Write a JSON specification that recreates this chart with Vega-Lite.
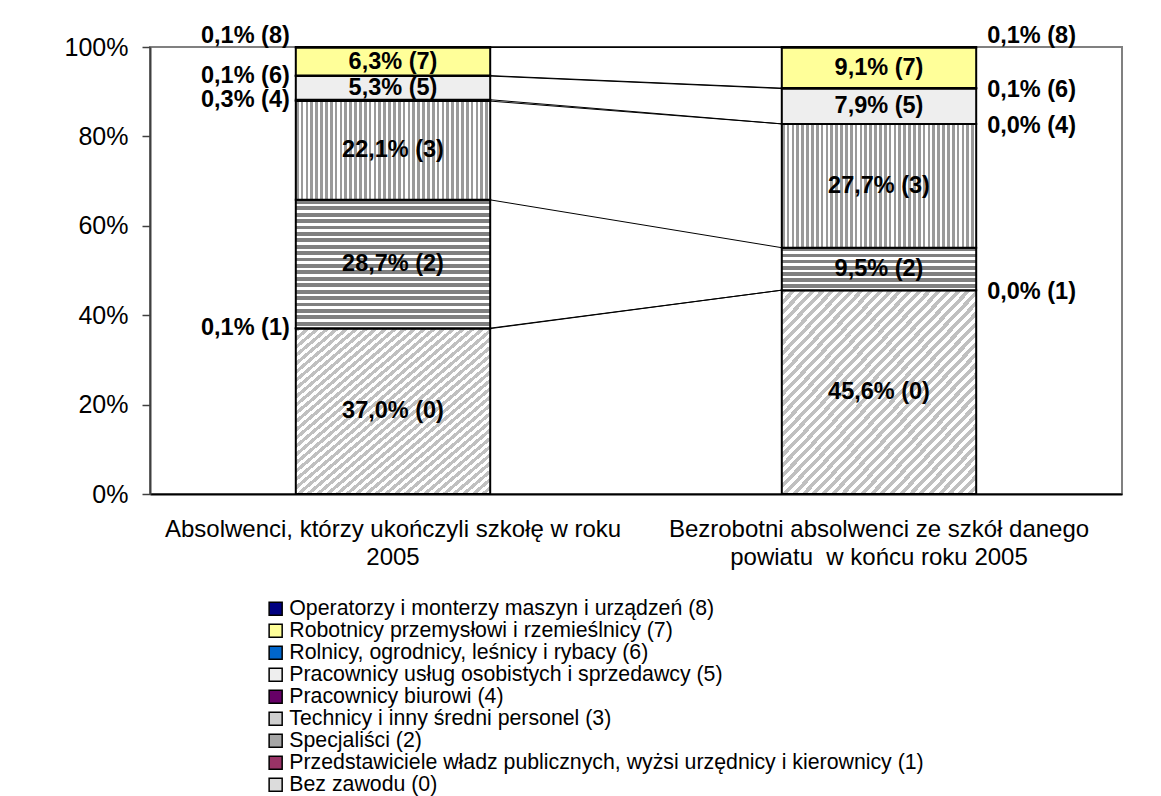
{
  "$schema": "https://vega.github.io/schema/vega-lite/v6.json",
  "width": 972,
  "height": 447,
  "autosize": {"type": "none"},
  "padding": {"left": 150, "top": 47, "right": 39, "bottom": 302},
  "background": "white",
  "config": {
    "view": {"stroke": "#808080", "strokeWidth": 2},
    "font": "Liberation Sans"
  },
  "data": {
    "values": [
      {"grad": "A", "code": 0, "cat": "Bez zawodu (0)", "value": 37.0},
      {"grad": "A", "code": 1, "cat": "Przedstawiciele władz publicznych, wyżsi urzędnicy i kierownicy (1)", "value": 0.1},
      {"grad": "A", "code": 2, "cat": "Specjaliści (2)", "value": 28.7},
      {"grad": "A", "code": 3, "cat": "Technicy i inny średni personel (3)", "value": 22.1},
      {"grad": "A", "code": 4, "cat": "Pracownicy biurowi (4)", "value": 0.3},
      {"grad": "A", "code": 5, "cat": "Pracownicy usług osobistych i sprzedawcy (5)", "value": 5.3},
      {"grad": "A", "code": 6, "cat": "Rolnicy, ogrodnicy, leśnicy i rybacy (6)", "value": 0.1},
      {"grad": "A", "code": 7, "cat": "Robotnicy przemysłowi i rzemieślnicy (7)", "value": 6.3},
      {"grad": "A", "code": 8, "cat": "Operatorzy i monterzy maszyn i urządzeń (8)", "value": 0.1},
      {"grad": "B", "code": 0, "cat": "Bez zawodu (0)", "value": 45.6},
      {"grad": "B", "code": 1, "cat": "Przedstawiciele władz publicznych, wyżsi urzędnicy i kierownicy (1)", "value": 0.0},
      {"grad": "B", "code": 2, "cat": "Specjaliści (2)", "value": 9.5},
      {"grad": "B", "code": 3, "cat": "Technicy i inny średni personel (3)", "value": 27.7},
      {"grad": "B", "code": 4, "cat": "Pracownicy biurowi (4)", "value": 0.0},
      {"grad": "B", "code": 5, "cat": "Pracownicy usług osobistych i sprzedawcy (5)", "value": 7.9},
      {"grad": "B", "code": 6, "cat": "Rolnicy, ogrodnicy, leśnicy i rybacy (6)", "value": 0.1},
      {"grad": "B", "code": 7, "cat": "Robotnicy przemysłowi i rzemieślnicy (7)", "value": 9.1},
      {"grad": "B", "code": 8, "cat": "Operatorzy i monterzy maszyn i urządzeń (8)", "value": 0.1}
    ]
  },
  "transform": [
    {"stack": "value", "groupby": ["grad"], "sort": [{"field": "code", "order": "ascending"}], "as": ["v0", "v1"]},
    {"calculate": "(datum.v0 + datum.v1) / 2", "as": "mid"},
    {"calculate": "replace(format(datum.value, '.1f'), '.', ',') + '% (' + datum.code + ')'", "as": "lbl"}
  ],
  "layer": [
    {
      "mark": {"type": "bar", "stroke": "black", "strokeWidth": 2},
      "encoding": {
        "x": {
          "field": "grad", "type": "nominal", "title": null,
          "scale": {"paddingInner": 0.6, "paddingOuter": 0.3},
          "axis": {
            "labelExpr": "datum.value == 'A' ? ['Absolwenci, którzy ukończyli szkołę w roku', '2005'] : ['Bezrobotni absolwenci ze szkół danego', 'powiatu\u00a0 w końcu roku 2005']",
            "ticks": false, "domainColor": "black", "domainWidth": 2,
            "labelFontSize": 24, "labelLineHeight": 28, "labelPadding": 23,
            "labelLimit": 0, "labelColor": "black", "labelAngle": 0, "labelFont": "Liberation Sans", "title": null
          }
        },
        "y": {
          "field": "v0", "type": "quantitative", "title": null,
          "scale": {"domain": [0, 100], "nice": false},
          "axis": {
            "values": [0, 20, 40, 60, 80, 100], "labelExpr": "datum.value + '%'", "grid": false,
            "tickSize": 8, "tickColor": "#404040", "tickWidth": 1.5,
            "domainColor": "#404040", "domainWidth": 2,
            "labelFontSize": 25, "labelPadding": 14, "labelColor": "black", "labelFont": "Liberation Sans", "title": null
          }
        },
        "y2": {"field": "v1"},
        "fill": {
          "field": "cat", "type": "nominal",
          "scale": {
            "domain": [
              "Operatorzy i monterzy maszyn i urządzeń (8)",
              "Robotnicy przemysłowi i rzemieślnicy (7)",
              "Rolnicy, ogrodnicy, leśnicy i rybacy (6)",
              "Pracownicy usług osobistych i sprzedawcy (5)",
              "Pracownicy biurowi (4)",
              "Technicy i inny średni personel (3)",
              "Specjaliści (2)",
              "Przedstawiciele władz publicznych, wyżsi urzędnicy i kierownicy (1)",
              "Bez zawodu (0)"
            ],
            "range": ["#000080", "#ffff99", "#0066cc", "#eeeeee", "#660066", "#cfcfcf", "#a6a6a6", "#993366", "#dcdcdc"]
          },
          "legend": {
            "orient": "none", "legendX": 115, "legendY": 551, "title": null,
            "symbolType": "square", "symbolSize": 170, "symbolStrokeColor": "black", "symbolStrokeWidth": 1.5,
            "labelFontSize": 21.3, "labelFont": "Liberation Sans", "labelColor": "black", "labelLimit": 800,
            "rowPadding": 0, "labelOffset": 3, "padding": 0, "direction": "vertical"
          },
          "condition": [
            {"test": "datum.code == 3", "value": {"gradient": "linear", "x1": 0, "y1": 0, "x2": 1, "y2": 0, "stops": [
              {"offset":0,"color":"#9a9a9a"},{"offset":0.014,"color":"#9a9a9a"},{"offset":0.014,"color":"#fff"},{"offset":0.025,"color":"#fff"},
              {"offset":0.025,"color":"#9a9a9a"},{"offset":0.039,"color":"#9a9a9a"},{"offset":0.039,"color":"#fff"},{"offset":0.05,"color":"#fff"},
              {"offset":0.05,"color":"#9a9a9a"},{"offset":0.064,"color":"#9a9a9a"},{"offset":0.064,"color":"#fff"},{"offset":0.075,"color":"#fff"},
              {"offset":0.075,"color":"#9a9a9a"},{"offset":0.089,"color":"#9a9a9a"},{"offset":0.089,"color":"#fff"},{"offset":0.1,"color":"#fff"},
              {"offset":0.1,"color":"#9a9a9a"},{"offset":0.114,"color":"#9a9a9a"},{"offset":0.114,"color":"#fff"},{"offset":0.125,"color":"#fff"},
              {"offset":0.125,"color":"#9a9a9a"},{"offset":0.139,"color":"#9a9a9a"},{"offset":0.139,"color":"#fff"},{"offset":0.15,"color":"#fff"},
              {"offset":0.15,"color":"#9a9a9a"},{"offset":0.164,"color":"#9a9a9a"},{"offset":0.164,"color":"#fff"},{"offset":0.175,"color":"#fff"},
              {"offset":0.175,"color":"#9a9a9a"},{"offset":0.189,"color":"#9a9a9a"},{"offset":0.189,"color":"#fff"},{"offset":0.2,"color":"#fff"},
              {"offset":0.2,"color":"#9a9a9a"},{"offset":0.214,"color":"#9a9a9a"},{"offset":0.214,"color":"#fff"},{"offset":0.225,"color":"#fff"},
              {"offset":0.225,"color":"#9a9a9a"},{"offset":0.239,"color":"#9a9a9a"},{"offset":0.239,"color":"#fff"},{"offset":0.25,"color":"#fff"},
              {"offset":0.25,"color":"#9a9a9a"},{"offset":0.264,"color":"#9a9a9a"},{"offset":0.264,"color":"#fff"},{"offset":0.275,"color":"#fff"},
              {"offset":0.275,"color":"#9a9a9a"},{"offset":0.289,"color":"#9a9a9a"},{"offset":0.289,"color":"#fff"},{"offset":0.3,"color":"#fff"},
              {"offset":0.3,"color":"#9a9a9a"},{"offset":0.314,"color":"#9a9a9a"},{"offset":0.314,"color":"#fff"},{"offset":0.325,"color":"#fff"},
              {"offset":0.325,"color":"#9a9a9a"},{"offset":0.339,"color":"#9a9a9a"},{"offset":0.339,"color":"#fff"},{"offset":0.35,"color":"#fff"},
              {"offset":0.35,"color":"#9a9a9a"},{"offset":0.364,"color":"#9a9a9a"},{"offset":0.364,"color":"#fff"},{"offset":0.375,"color":"#fff"},
              {"offset":0.375,"color":"#9a9a9a"},{"offset":0.389,"color":"#9a9a9a"},{"offset":0.389,"color":"#fff"},{"offset":0.4,"color":"#fff"},
              {"offset":0.4,"color":"#9a9a9a"},{"offset":0.414,"color":"#9a9a9a"},{"offset":0.414,"color":"#fff"},{"offset":0.425,"color":"#fff"},
              {"offset":0.425,"color":"#9a9a9a"},{"offset":0.439,"color":"#9a9a9a"},{"offset":0.439,"color":"#fff"},{"offset":0.45,"color":"#fff"},
              {"offset":0.45,"color":"#9a9a9a"},{"offset":0.464,"color":"#9a9a9a"},{"offset":0.464,"color":"#fff"},{"offset":0.475,"color":"#fff"},
              {"offset":0.475,"color":"#9a9a9a"},{"offset":0.489,"color":"#9a9a9a"},{"offset":0.489,"color":"#fff"},{"offset":0.5,"color":"#fff"},
              {"offset":0.5,"color":"#9a9a9a"},{"offset":0.514,"color":"#9a9a9a"},{"offset":0.514,"color":"#fff"},{"offset":0.525,"color":"#fff"},
              {"offset":0.525,"color":"#9a9a9a"},{"offset":0.539,"color":"#9a9a9a"},{"offset":0.539,"color":"#fff"},{"offset":0.55,"color":"#fff"},
              {"offset":0.55,"color":"#9a9a9a"},{"offset":0.564,"color":"#9a9a9a"},{"offset":0.564,"color":"#fff"},{"offset":0.575,"color":"#fff"},
              {"offset":0.575,"color":"#9a9a9a"},{"offset":0.589,"color":"#9a9a9a"},{"offset":0.589,"color":"#fff"},{"offset":0.6,"color":"#fff"},
              {"offset":0.6,"color":"#9a9a9a"},{"offset":0.614,"color":"#9a9a9a"},{"offset":0.614,"color":"#fff"},{"offset":0.625,"color":"#fff"},
              {"offset":0.625,"color":"#9a9a9a"},{"offset":0.639,"color":"#9a9a9a"},{"offset":0.639,"color":"#fff"},{"offset":0.65,"color":"#fff"},
              {"offset":0.65,"color":"#9a9a9a"},{"offset":0.664,"color":"#9a9a9a"},{"offset":0.664,"color":"#fff"},{"offset":0.675,"color":"#fff"},
              {"offset":0.675,"color":"#9a9a9a"},{"offset":0.689,"color":"#9a9a9a"},{"offset":0.689,"color":"#fff"},{"offset":0.7,"color":"#fff"},
              {"offset":0.7,"color":"#9a9a9a"},{"offset":0.714,"color":"#9a9a9a"},{"offset":0.714,"color":"#fff"},{"offset":0.725,"color":"#fff"},
              {"offset":0.725,"color":"#9a9a9a"},{"offset":0.739,"color":"#9a9a9a"},{"offset":0.739,"color":"#fff"},{"offset":0.75,"color":"#fff"},
              {"offset":0.75,"color":"#9a9a9a"},{"offset":0.764,"color":"#9a9a9a"},{"offset":0.764,"color":"#fff"},{"offset":0.775,"color":"#fff"},
              {"offset":0.775,"color":"#9a9a9a"},{"offset":0.789,"color":"#9a9a9a"},{"offset":0.789,"color":"#fff"},{"offset":0.8,"color":"#fff"},
              {"offset":0.8,"color":"#9a9a9a"},{"offset":0.814,"color":"#9a9a9a"},{"offset":0.814,"color":"#fff"},{"offset":0.825,"color":"#fff"},
              {"offset":0.825,"color":"#9a9a9a"},{"offset":0.839,"color":"#9a9a9a"},{"offset":0.839,"color":"#fff"},{"offset":0.85,"color":"#fff"},
              {"offset":0.85,"color":"#9a9a9a"},{"offset":0.864,"color":"#9a9a9a"},{"offset":0.864,"color":"#fff"},{"offset":0.875,"color":"#fff"},
              {"offset":0.875,"color":"#9a9a9a"},{"offset":0.889,"color":"#9a9a9a"},{"offset":0.889,"color":"#fff"},{"offset":0.9,"color":"#fff"},
              {"offset":0.9,"color":"#9a9a9a"},{"offset":0.914,"color":"#9a9a9a"},{"offset":0.914,"color":"#fff"},{"offset":0.925,"color":"#fff"},
              {"offset":0.925,"color":"#9a9a9a"},{"offset":0.939,"color":"#9a9a9a"},{"offset":0.939,"color":"#fff"},{"offset":0.95,"color":"#fff"},
              {"offset":0.95,"color":"#9a9a9a"},{"offset":0.964,"color":"#9a9a9a"},{"offset":0.964,"color":"#fff"},{"offset":0.975,"color":"#fff"},
              {"offset":0.975,"color":"#9a9a9a"},{"offset":0.989,"color":"#9a9a9a"},{"offset":0.989,"color":"#fff"},{"offset":1,"color":"#fff"}
            ]}},
            {"test": "datum.code == 0", "value": {"gradient": "linear", "x1": 0, "y1": 0, "x2": 1, "y2": 1, "stops": [
              {"offset":0,"color":"#c0c0c0"},{"offset":0.013,"color":"#c0c0c0"},{"offset":0.013,"color":"#fff"},{"offset":0.025,"color":"#fff"},
              {"offset":0.025,"color":"#c0c0c0"},{"offset":0.038,"color":"#c0c0c0"},{"offset":0.038,"color":"#fff"},{"offset":0.05,"color":"#fff"},
              {"offset":0.05,"color":"#c0c0c0"},{"offset":0.063,"color":"#c0c0c0"},{"offset":0.063,"color":"#fff"},{"offset":0.075,"color":"#fff"},
              {"offset":0.075,"color":"#c0c0c0"},{"offset":0.088,"color":"#c0c0c0"},{"offset":0.088,"color":"#fff"},{"offset":0.1,"color":"#fff"},
              {"offset":0.1,"color":"#c0c0c0"},{"offset":0.113,"color":"#c0c0c0"},{"offset":0.113,"color":"#fff"},{"offset":0.125,"color":"#fff"},
              {"offset":0.125,"color":"#c0c0c0"},{"offset":0.138,"color":"#c0c0c0"},{"offset":0.138,"color":"#fff"},{"offset":0.15,"color":"#fff"},
              {"offset":0.15,"color":"#c0c0c0"},{"offset":0.163,"color":"#c0c0c0"},{"offset":0.163,"color":"#fff"},{"offset":0.175,"color":"#fff"},
              {"offset":0.175,"color":"#c0c0c0"},{"offset":0.188,"color":"#c0c0c0"},{"offset":0.188,"color":"#fff"},{"offset":0.2,"color":"#fff"},
              {"offset":0.2,"color":"#c0c0c0"},{"offset":0.213,"color":"#c0c0c0"},{"offset":0.213,"color":"#fff"},{"offset":0.225,"color":"#fff"},
              {"offset":0.225,"color":"#c0c0c0"},{"offset":0.238,"color":"#c0c0c0"},{"offset":0.238,"color":"#fff"},{"offset":0.25,"color":"#fff"},
              {"offset":0.25,"color":"#c0c0c0"},{"offset":0.263,"color":"#c0c0c0"},{"offset":0.263,"color":"#fff"},{"offset":0.275,"color":"#fff"},
              {"offset":0.275,"color":"#c0c0c0"},{"offset":0.288,"color":"#c0c0c0"},{"offset":0.288,"color":"#fff"},{"offset":0.3,"color":"#fff"},
              {"offset":0.3,"color":"#c0c0c0"},{"offset":0.313,"color":"#c0c0c0"},{"offset":0.313,"color":"#fff"},{"offset":0.325,"color":"#fff"},
              {"offset":0.325,"color":"#c0c0c0"},{"offset":0.338,"color":"#c0c0c0"},{"offset":0.338,"color":"#fff"},{"offset":0.35,"color":"#fff"},
              {"offset":0.35,"color":"#c0c0c0"},{"offset":0.363,"color":"#c0c0c0"},{"offset":0.363,"color":"#fff"},{"offset":0.375,"color":"#fff"},
              {"offset":0.375,"color":"#c0c0c0"},{"offset":0.388,"color":"#c0c0c0"},{"offset":0.388,"color":"#fff"},{"offset":0.4,"color":"#fff"},
              {"offset":0.4,"color":"#c0c0c0"},{"offset":0.413,"color":"#c0c0c0"},{"offset":0.413,"color":"#fff"},{"offset":0.425,"color":"#fff"},
              {"offset":0.425,"color":"#c0c0c0"},{"offset":0.438,"color":"#c0c0c0"},{"offset":0.438,"color":"#fff"},{"offset":0.45,"color":"#fff"},
              {"offset":0.45,"color":"#c0c0c0"},{"offset":0.463,"color":"#c0c0c0"},{"offset":0.463,"color":"#fff"},{"offset":0.475,"color":"#fff"},
              {"offset":0.475,"color":"#c0c0c0"},{"offset":0.488,"color":"#c0c0c0"},{"offset":0.488,"color":"#fff"},{"offset":0.5,"color":"#fff"},
              {"offset":0.5,"color":"#c0c0c0"},{"offset":0.513,"color":"#c0c0c0"},{"offset":0.513,"color":"#fff"},{"offset":0.525,"color":"#fff"},
              {"offset":0.525,"color":"#c0c0c0"},{"offset":0.538,"color":"#c0c0c0"},{"offset":0.538,"color":"#fff"},{"offset":0.55,"color":"#fff"},
              {"offset":0.55,"color":"#c0c0c0"},{"offset":0.563,"color":"#c0c0c0"},{"offset":0.563,"color":"#fff"},{"offset":0.575,"color":"#fff"},
              {"offset":0.575,"color":"#c0c0c0"},{"offset":0.588,"color":"#c0c0c0"},{"offset":0.588,"color":"#fff"},{"offset":0.6,"color":"#fff"},
              {"offset":0.6,"color":"#c0c0c0"},{"offset":0.613,"color":"#c0c0c0"},{"offset":0.613,"color":"#fff"},{"offset":0.625,"color":"#fff"},
              {"offset":0.625,"color":"#c0c0c0"},{"offset":0.638,"color":"#c0c0c0"},{"offset":0.638,"color":"#fff"},{"offset":0.65,"color":"#fff"},
              {"offset":0.65,"color":"#c0c0c0"},{"offset":0.663,"color":"#c0c0c0"},{"offset":0.663,"color":"#fff"},{"offset":0.675,"color":"#fff"},
              {"offset":0.675,"color":"#c0c0c0"},{"offset":0.688,"color":"#c0c0c0"},{"offset":0.688,"color":"#fff"},{"offset":0.7,"color":"#fff"},
              {"offset":0.7,"color":"#c0c0c0"},{"offset":0.713,"color":"#c0c0c0"},{"offset":0.713,"color":"#fff"},{"offset":0.725,"color":"#fff"},
              {"offset":0.725,"color":"#c0c0c0"},{"offset":0.738,"color":"#c0c0c0"},{"offset":0.738,"color":"#fff"},{"offset":0.75,"color":"#fff"},
              {"offset":0.75,"color":"#c0c0c0"},{"offset":0.763,"color":"#c0c0c0"},{"offset":0.763,"color":"#fff"},{"offset":0.775,"color":"#fff"},
              {"offset":0.775,"color":"#c0c0c0"},{"offset":0.788,"color":"#c0c0c0"},{"offset":0.788,"color":"#fff"},{"offset":0.8,"color":"#fff"},
              {"offset":0.8,"color":"#c0c0c0"},{"offset":0.813,"color":"#c0c0c0"},{"offset":0.813,"color":"#fff"},{"offset":0.825,"color":"#fff"},
              {"offset":0.825,"color":"#c0c0c0"},{"offset":0.838,"color":"#c0c0c0"},{"offset":0.838,"color":"#fff"},{"offset":0.85,"color":"#fff"},
              {"offset":0.85,"color":"#c0c0c0"},{"offset":0.863,"color":"#c0c0c0"},{"offset":0.863,"color":"#fff"},{"offset":0.875,"color":"#fff"},
              {"offset":0.875,"color":"#c0c0c0"},{"offset":0.888,"color":"#c0c0c0"},{"offset":0.888,"color":"#fff"},{"offset":0.9,"color":"#fff"},
              {"offset":0.9,"color":"#c0c0c0"},{"offset":0.913,"color":"#c0c0c0"},{"offset":0.913,"color":"#fff"},{"offset":0.925,"color":"#fff"},
              {"offset":0.925,"color":"#c0c0c0"},{"offset":0.938,"color":"#c0c0c0"},{"offset":0.938,"color":"#fff"},{"offset":0.95,"color":"#fff"},
              {"offset":0.95,"color":"#c0c0c0"},{"offset":0.963,"color":"#c0c0c0"},{"offset":0.963,"color":"#fff"},{"offset":0.975,"color":"#fff"},
              {"offset":0.975,"color":"#c0c0c0"},{"offset":0.988,"color":"#c0c0c0"},{"offset":0.988,"color":"#fff"},{"offset":1,"color":"#fff"}
            ]}},
            {"test": "datum.code == 2 && datum.grad == 'A'", "value": {"gradient": "linear", "x1": 0, "y1": 0, "x2": 0, "y2": 1, "stops": [
              {"offset":0,"color":"#808080"},{"offset":0.03,"color":"#808080"},{"offset":0.03,"color":"#fff"},{"offset":0.05,"color":"#fff"},
              {"offset":0.05,"color":"#808080"},{"offset":0.08,"color":"#808080"},{"offset":0.08,"color":"#fff"},{"offset":0.1,"color":"#fff"},
              {"offset":0.1,"color":"#808080"},{"offset":0.13,"color":"#808080"},{"offset":0.13,"color":"#fff"},{"offset":0.15,"color":"#fff"},
              {"offset":0.15,"color":"#808080"},{"offset":0.18,"color":"#808080"},{"offset":0.18,"color":"#fff"},{"offset":0.2,"color":"#fff"},
              {"offset":0.2,"color":"#808080"},{"offset":0.23,"color":"#808080"},{"offset":0.23,"color":"#fff"},{"offset":0.25,"color":"#fff"},
              {"offset":0.25,"color":"#808080"},{"offset":0.28,"color":"#808080"},{"offset":0.28,"color":"#fff"},{"offset":0.3,"color":"#fff"},
              {"offset":0.3,"color":"#808080"},{"offset":0.33,"color":"#808080"},{"offset":0.33,"color":"#fff"},{"offset":0.35,"color":"#fff"},
              {"offset":0.35,"color":"#808080"},{"offset":0.38,"color":"#808080"},{"offset":0.38,"color":"#fff"},{"offset":0.4,"color":"#fff"},
              {"offset":0.4,"color":"#808080"},{"offset":0.43,"color":"#808080"},{"offset":0.43,"color":"#fff"},{"offset":0.45,"color":"#fff"},
              {"offset":0.45,"color":"#808080"},{"offset":0.48,"color":"#808080"},{"offset":0.48,"color":"#fff"},{"offset":0.5,"color":"#fff"},
              {"offset":0.5,"color":"#808080"},{"offset":0.53,"color":"#808080"},{"offset":0.53,"color":"#fff"},{"offset":0.55,"color":"#fff"},
              {"offset":0.55,"color":"#808080"},{"offset":0.58,"color":"#808080"},{"offset":0.58,"color":"#fff"},{"offset":0.6,"color":"#fff"},
              {"offset":0.6,"color":"#808080"},{"offset":0.63,"color":"#808080"},{"offset":0.63,"color":"#fff"},{"offset":0.65,"color":"#fff"},
              {"offset":0.65,"color":"#808080"},{"offset":0.68,"color":"#808080"},{"offset":0.68,"color":"#fff"},{"offset":0.7,"color":"#fff"},
              {"offset":0.7,"color":"#808080"},{"offset":0.73,"color":"#808080"},{"offset":0.73,"color":"#fff"},{"offset":0.75,"color":"#fff"},
              {"offset":0.75,"color":"#808080"},{"offset":0.78,"color":"#808080"},{"offset":0.78,"color":"#fff"},{"offset":0.8,"color":"#fff"},
              {"offset":0.8,"color":"#808080"},{"offset":0.83,"color":"#808080"},{"offset":0.83,"color":"#fff"},{"offset":0.85,"color":"#fff"},
              {"offset":0.85,"color":"#808080"},{"offset":0.88,"color":"#808080"},{"offset":0.88,"color":"#fff"},{"offset":0.9,"color":"#fff"},
              {"offset":0.9,"color":"#808080"},{"offset":0.93,"color":"#808080"},{"offset":0.93,"color":"#fff"},{"offset":0.95,"color":"#fff"},
              {"offset":0.95,"color":"#808080"},{"offset":0.98,"color":"#808080"},{"offset":0.98,"color":"#fff"},{"offset":1,"color":"#fff"}
            ]}},
            {"test": "datum.code == 2 && datum.grad == 'B'", "value": {"gradient": "linear", "x1": 0, "y1": 0, "x2": 0, "y2": 1, "stops": [
              {"offset":0,"color":"#808080"},{"offset":0.0857,"color":"#808080"},{"offset":0.0857,"color":"#fff"},{"offset":0.1429,"color":"#fff"},
              {"offset":0.1429,"color":"#808080"},{"offset":0.2286,"color":"#808080"},{"offset":0.2286,"color":"#fff"},{"offset":0.2857,"color":"#fff"},
              {"offset":0.2857,"color":"#808080"},{"offset":0.3714,"color":"#808080"},{"offset":0.3714,"color":"#fff"},{"offset":0.4286,"color":"#fff"},
              {"offset":0.4286,"color":"#808080"},{"offset":0.5143,"color":"#808080"},{"offset":0.5143,"color":"#fff"},{"offset":0.5714,"color":"#fff"},
              {"offset":0.5714,"color":"#808080"},{"offset":0.6571,"color":"#808080"},{"offset":0.6571,"color":"#fff"},{"offset":0.7143,"color":"#fff"},
              {"offset":0.7143,"color":"#808080"},{"offset":0.8,"color":"#808080"},{"offset":0.8,"color":"#fff"},{"offset":0.8571,"color":"#fff"},
              {"offset":0.8571,"color":"#808080"},{"offset":0.9429,"color":"#808080"},{"offset":0.9429,"color":"#fff"},{"offset":1,"color":"#fff"}
            ]}}
          ]
        }
      }
    },
    {
      "transform": [{"pivot": "grad", "value": "v1", "groupby": ["code"]}],
      "mark": {"type": "rule", "color": "black", "strokeWidth": 1},
      "encoding": {
        "x": {"datum": "A", "type": "nominal", "bandPosition": 1, "title": null},
        "x2": {"datum": "B", "bandPosition": 0},
        "y": {"field": "A", "type": "quantitative", "title": null},
        "y2": {"field": "B"}
      }
    },
    {
      "transform": [{"filter": "datum.value >= 1"}],
      "mark": {"type": "text", "fontWeight": "bold", "fontSize": 23.5, "font": "Liberation Sans", "baseline": "middle", "color": "black"},
      "encoding": {
        "x": {"field": "grad", "type": "nominal", "title": null},
        "y": {"field": "mid", "type": "quantitative", "title": null},
        "text": {"field": "lbl"}
      }
    },
    {
      "transform": [{"filter": "datum.grad == 'A' && datum.value < 1 && datum.code != 8"}],
      "mark": {"type": "text", "fontWeight": "bold", "fontSize": 23.5, "font": "Liberation Sans", "baseline": "middle", "align": "right", "dx": -6, "color": "black"},
      "encoding": {
        "x": {"field": "grad", "type": "nominal", "bandPosition": 0, "title": null},
        "y": {"field": "mid", "type": "quantitative", "title": null},
        "text": {"field": "lbl"}
      }
    },
    {
      "transform": [{"filter": "datum.grad == 'A' && datum.code == 8"}],
      "mark": {"type": "text", "fontWeight": "bold", "fontSize": 23.5, "font": "Liberation Sans", "baseline": "middle", "align": "right", "dx": -6, "dy": -11, "color": "black"},
      "encoding": {
        "x": {"field": "grad", "type": "nominal", "bandPosition": 0, "title": null},
        "y": {"field": "mid", "type": "quantitative", "title": null},
        "text": {"field": "lbl"}
      }
    },
    {
      "transform": [{"filter": "datum.grad == 'B' && datum.value < 1 && datum.code != 8"}],
      "mark": {"type": "text", "fontWeight": "bold", "fontSize": 23.5, "font": "Liberation Sans", "baseline": "middle", "align": "left", "dx": 11, "dy": 2, "color": "black"},
      "encoding": {
        "x": {"field": "grad", "type": "nominal", "bandPosition": 1, "title": null},
        "y": {"field": "mid", "type": "quantitative", "title": null},
        "text": {"field": "lbl"}
      }
    },
    {
      "transform": [{"filter": "datum.grad == 'B' && datum.code == 8"}],
      "mark": {"type": "text", "fontWeight": "bold", "fontSize": 23.5, "font": "Liberation Sans", "baseline": "middle", "align": "left", "dx": 11, "dy": -11, "color": "black"},
      "encoding": {
        "x": {"field": "grad", "type": "nominal", "bandPosition": 1, "title": null},
        "y": {"field": "mid", "type": "quantitative", "title": null},
        "text": {"field": "lbl"}
      }
    }
  ]
}
